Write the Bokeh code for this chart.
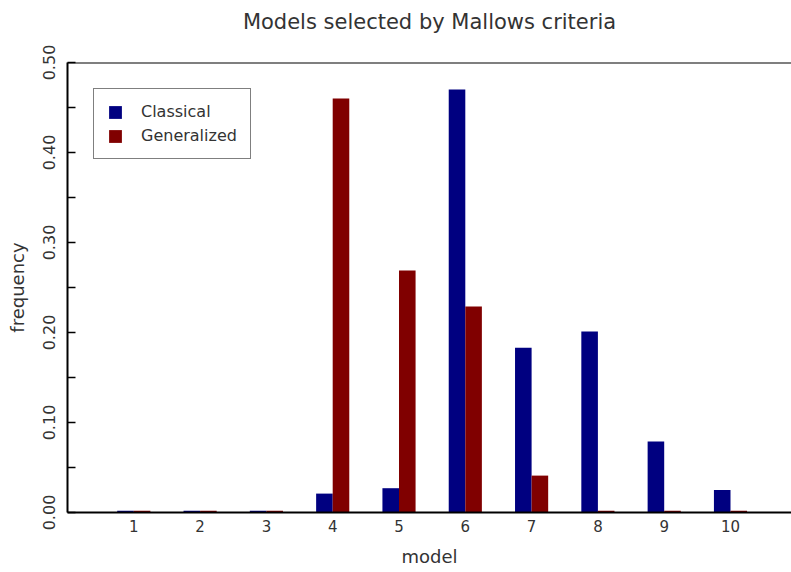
from bokeh.plotting import figure
from bokeh.models import ColumnDataSource, FixedTicker, Range1d, Span, Title
from bokeh.transform import dodge
from bokeh.embed import file_html
from bokeh.resources import INLINE

title_text = "Models selected by Mallows criteria"
models = [1, 2, 3, 4, 5, 6, 7, 8, 9, 10]
classical = [0.002, 0.002, 0.002, 0.021, 0.027, 0.470, 0.183, 0.201, 0.079, 0.025]
generalized = [0.002, 0.002, 0.002, 0.460, 0.269, 0.229, 0.041, 0.002, 0.002, 0.002]
y_ticks = [0.0, 0.1, 0.2, 0.3, 0.4, 0.5]
y_minor = [0.05, 0.15, 0.25, 0.35, 0.45]
y_labels = {0.0: "0.00", 0.1: "0.10", 0.2: "0.20", 0.3: "0.30", 0.4: "0.40", 0.5: "0.50"}

src = ColumnDataSource(dict(model=models, classical=classical, generalized=generalized))

FONT = "DejaVu Sans"
TXT = "#333333"

p = figure(width=791, height=572, output_backend="svg", toolbar_location=None,
           x_range=Range1d(0, 10.92), y_range=Range1d(0, 0.5), title=None,
           min_border_left=67, min_border_right=0, min_border_top=62, min_border_bottom=60)

p.vbar(x=dodge("model", -0.125, range=p.x_range), top="classical", width=0.25, bottom=0,
       source=src, fill_color="#000080", line_color=None, legend_label="Classical")
p.vbar(x=dodge("model", 0.125, range=p.x_range), top="generalized", width=0.25, bottom=0,
       source=src, fill_color="#800000", line_color=None, legend_label="Generalized")

# top border of the box
p.add_layout(Span(location=0.5, dimension="width", line_color="black", line_width=2))

# spacer panel next to the frame, then the real title further out
p.add_layout(Title(text=" ", text_font_size="1px", standoff=23), "above")
p.add_layout(Title(text=title_text, align="center", text_font=FONT, text_font_style="normal",
                   text_font_size="21px", text_color=TXT, standoff=5), "above")

p.grid.visible = False
p.outline_line_color = None
p.background_fill_color = "white"
p.border_fill_color = "white"

# x axis
xa = p.xaxis[0]
xa.ticker = FixedTicker(ticks=models)
xa.axis_line_width = 2
xa.axis_line_color = "black"
xa.major_tick_in = 0
xa.major_tick_out = 0
xa.minor_tick_line_color = None
xa.major_label_text_font = FONT
xa.major_label_text_font_size = "15px"
xa.major_label_text_color = TXT
xa.major_label_standoff = 7
xa.axis_label = "model"
xa.axis_label_text_font = FONT
xa.axis_label_text_font_style = "normal"
xa.axis_label_text_font_size = "18px"
xa.axis_label_text_color = TXT
xa.axis_label_standoff = 11

# y axis
ya = p.yaxis[0]
ya.ticker = FixedTicker(ticks=y_ticks, minor_ticks=y_minor)
ya.major_label_overrides = y_labels
ya.axis_line_width = 2
ya.axis_line_color = "black"
ya.major_tick_in = 8
ya.major_tick_out = 0
ya.minor_tick_in = 8
ya.minor_tick_out = 0
ya.major_tick_line_width = 1.5
ya.minor_tick_line_width = 1.5
ya.major_tick_line_color = "black"
ya.minor_tick_line_color = "black"
ya.major_label_orientation = "vertical"
ya.major_label_text_font = FONT
ya.major_label_text_font_size = "16px"
ya.major_label_text_color = TXT
ya.major_label_standoff = 13
ya.axis_label = "frequency"
ya.axis_label_text_font = FONT
ya.axis_label_text_font_style = "normal"
ya.axis_label_text_font_size = "18px"
ya.axis_label_text_color = TXT
ya.axis_label_standoff = 12

lg = p.legend[0]
lg.location = "top_left"
lg.margin = 26
lg.border_line_color = "black"
lg.border_line_width = 1
lg.background_fill_alpha = 1
lg.label_text_font = FONT
lg.label_text_font_size = "16px"
lg.label_text_color = TXT
lg.glyph_width = 16
lg.glyph_height = 16
lg.label_standoff = 18
lg.spacing = 5
lg.padding = 13
lg.label_height = 18

open("out.html", "w").write(file_html(p, INLINE))
